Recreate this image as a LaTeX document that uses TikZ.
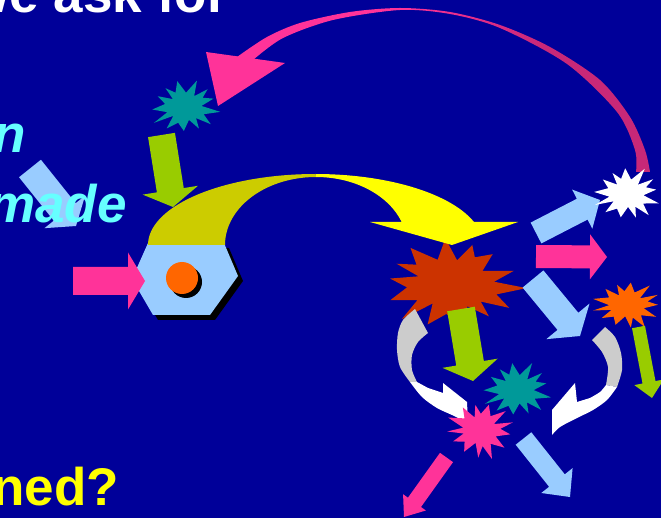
\documentclass[tikz,border=0pt]{standalone}
\usepackage{fontspec}
\setmainfont{Liberation Sans}
\usetikzlibrary{calc}
\definecolor{bg}{HTML}{000099}
\definecolor{lblue}{HTML}{99CCFF}
\definecolor{pinkA}{HTML}{FF3399}
\definecolor{pinkB}{RGB}{200,40,120}
\definecolor{lgreen}{HTML}{99CC00}
\definecolor{teal}{HTML}{009999}
\definecolor{redst}{HTML}{CC3300}
\definecolor{orangest}{HTML}{FF6600}
\definecolor{yel}{HTML}{FFFF00}
\definecolor{olive}{HTML}{CCCC00}
\definecolor{cyanT}{HTML}{66FFFF}
\definecolor{grayc}{HTML}{CCCCCC}
\pgfdeclarehorizontalshading{pinkarc}{100bp}{color(0bp)=(pinkA); color(45bp)=(pinkA); color(62bp)=(pinkB); color(100bp)=(pinkB)}
% block arrow: color, tail, tip, shaft half width, head half width, head length
\newcommand{\barrow}[6]{%
  \coordinate (bt) at #2; \coordinate (bp) at #3;
  \coordinate (bh) at ($(bp)!#6pt!(bt)$);
  \fill[#1] ($(bt)!#4pt!90:(bp)$) -- ($(bh)!#4pt!-90:(bt)$) -- ($(bh)!#5pt!-90:(bt)$)
    -- (bp) -- ($(bh)!#5pt!90:(bt)$) -- ($(bh)!#4pt!90:(bt)$) -- ($(bt)!#4pt!-90:(bp)$) -- cycle;}
% starburst: color, cx, cy, rx, ry, last vertex index, inner ratio, phase
\newcommand{\burst}[8]{%
  \fill[#1] plot[samples at={0,...,#6}, variable=\vv]
   ({#2+#4*(mod(\vv,2)==0 ? 1-0.18*abs(sin(\vv*71+#8)) : #7*(1+0.15*sin(\vv*113+#8)))*cos(\vv*360/(#6+1)+#8+3*sin(\vv*57))},
    {#3+#5*(mod(\vv,2)==0 ? 1-0.18*abs(sin(\vv*71+#8)) : #7*(1+0.15*sin(\vv*113+#8)))*sin(\vv*360/(#6+1)+#8+3*sin(\vv*57))}) -- cycle;}
\tikzset{
  bigtext/.style={inner sep=0pt, font=\bfseries\fontsize{53}{60}\selectfont},
  itext/.style={inner sep=0pt, font=\bfseries\itshape\fontsize{53}{60}\selectfont},
}
\begin{document}
\begin{tikzpicture}[x=1pt,y=-1pt]
\useasboundingbox (0,0) rectangle (661,518);
\clip (0,0) rectangle (661,518);
\fill[bg] (0,0) rectangle (661,518);

% pink curved arrow
\shade[shading=pinkarc] plot[smooth] coordinates {(237,57) (267,37) (300,23) (350,12) (400,8) (450,12) (500,25) (550,47) (600,80) (630,117) (645,150) (650,172)}
  -- plot[smooth] coordinates {(636,172) (635,150) (617,112) (567,64) (500,28) (450,14) (400,10) (333,20) (283,38) (253,60)} -- cycle;
\fill[pinkA] (206,52) -- (285,63) -- (218,106) -- cycle;

% teal star top-left and green arrow
\burst{teal}{185}{107}{37}{29}{25}{0.5}{10}
\barrow{lgreen}{(161.5,135)}{(173,207)}{13.6}{28}{17}

% left light-blue arrow
\barrow{lblue}{(30,168.5)}{(76,226)}{14}{26}{18}

% hexagon with shadow
\fill[black] (153,248) -- (229,248) -- (243,281) -- (215,320) -- (158,320) -- (137,284) -- cycle;
\fill[lblue] (148,243) -- (224,243) -- (238,276) -- (210,315) -- (153,315) -- (132,279) -- cycle;
\fill[black] (186,282) circle[radius=16];
\fill[orangest] (182,278) circle[radius=16];
\barrow{pinkA}{(73,281)}{(145,281)}{14}{28.5}{17}

% red star
\burst{redst}{452}{284}{76}{48}{27}{0.55}{5}

% yellow curved arrow
\fill[olive] plot[samples=40, domain=180:270] ({315.5+167.5*cos(\x)},{245+71*sin(\x)})
  -- plot[samples=40, domain=270:180] ({316+91*cos(\x)},{245+68*sin(\x)}) -- cycle;
\fill[yel] plot[samples=40, domain=270:341] ({315.5+167.5*cos(\x)},{245+71*sin(\x)})
  -- (518,222) -- (452,245) -- (370,222)
  -- plot[samples=40, domain=340.2:270] ({316+91*cos(\x)},{245+68*sin(\x)}) -- cycle;

% right group
\barrow{lblue}{(536,233)}{(600,200)}{11.7}{22}{20}
\burst{white}{627}{194}{36}{29}{25}{0.5}{20}
\barrow{pinkA}{(536,256.5)}{(607,257)}{11.5}{22.5}{17}
\barrow{lblue}{(533,279)}{(580,336)}{13.5}{28}{19}
\burst{orangest}{627}{305}{37}{26}{25}{0.5}{30}
\barrow{lgreen}{(638.5,327)}{(652,398)}{6.6}{15}{16}

% left curved arrow (gray/white)
\fill[grayc] plot[smooth] coordinates {(415,309) (403,320) (398,333) (397,350) (400,367) (410,382)}
  -- plot[smooth] coordinates {(417,382) (412,370) (412,355) (418,342) (428,333)} -- cycle;
\fill[white] plot[smooth] coordinates {(410,382) (422,397) (437,408) (452,415) (468,423)}
  -- (467,402) -- (443,383) -- (443,393)
  -- plot[smooth] coordinates {(428,388) (417,382)} -- cycle;

% right curved arrow (gray/white)
\fill[grayc] plot[smooth] coordinates {(605,327) (615,337) (621,353) (622,370) (617,387)}
  -- plot[smooth] coordinates {(606,385) (608,367) (602,352) (592,340)} -- cycle;
\fill[white] plot[smooth] coordinates {(617,387) (607,400) (593,410) (577,418) (560,427) (552,435)}
  -- (552,410) -- (575,383) -- (577,402)
  -- plot[smooth] coordinates {(590,398) (600,392) (606,385)} -- cycle;

% green arrow under red star
\barrow{lgreen}{(461,309)}{(473,381)}{14}{28}{18}

% middle stars
\burst{pinkA}{480}{430}{36}{31}{25}{0.5}{40}
\burst{teal}{517}{390}{37}{30}{25}{0.5}{15}

% bottom arrows
\barrow{pinkA}{(446.5,457.5)}{(404,517)}{8}{14}{18}
\barrow{lblue}{(523.5,438.5)}{(570,497)}{10}{20}{21}

% texts
\node[bigtext, text=white, anchor=base east] (t1) at (228,12.5) {we ask for};
\node[itext, text=cyanT, anchor=base east] (t2) at (26,153) {n};
\node[itext, text=cyanT, anchor=base west] (t3) at (-12,223) {made};
\node[bigtext, text=yel, anchor=base east] (t4) at (119,505) {ned?};
\end{tikzpicture}
\end{document}
